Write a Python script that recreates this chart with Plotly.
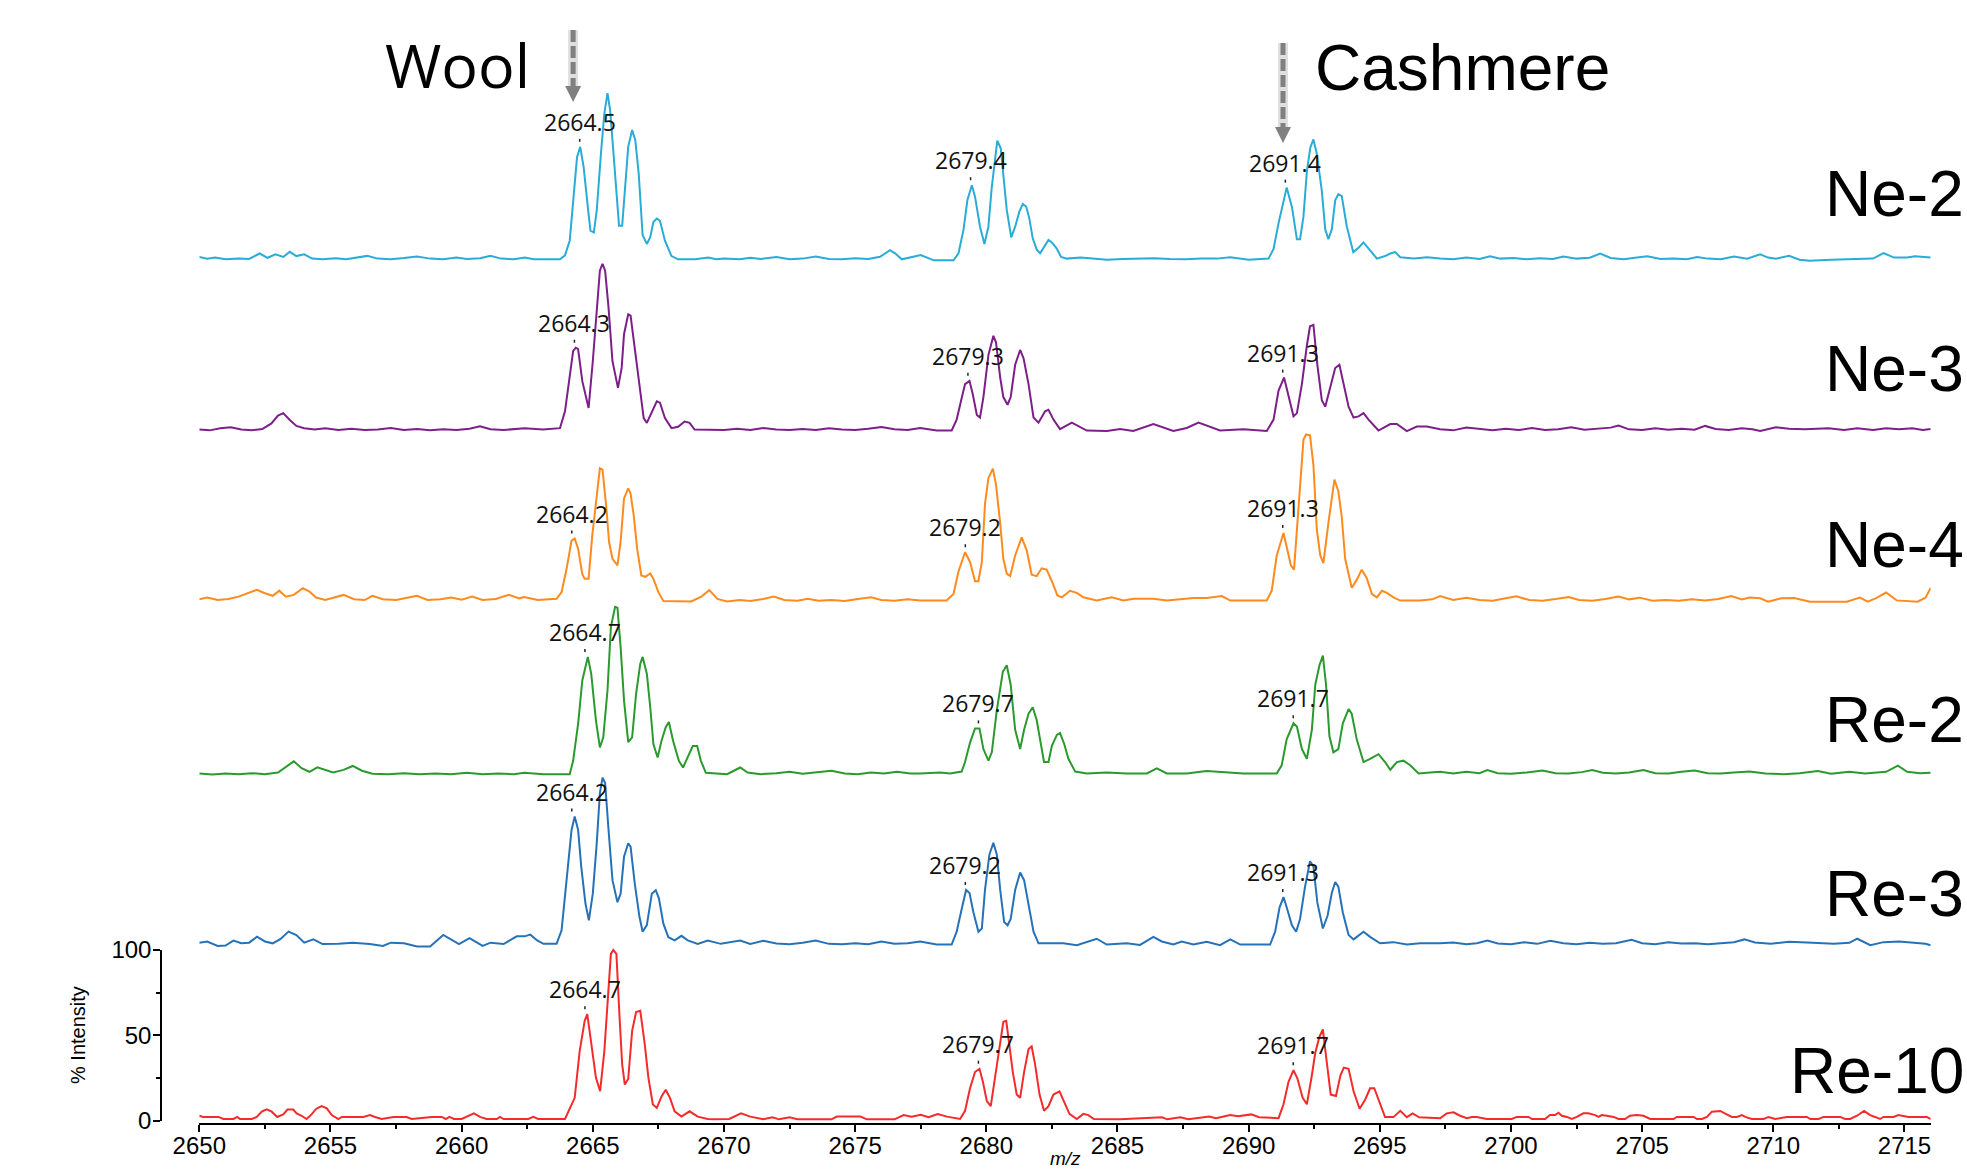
import numpy as np
import plotly.graph_objects as go

# ---------------- data ----------------
SAMPLES = ["Ne-2", "Ne-3", "Ne-4", "Re-2", "Re-3", "Re-10"]
COLORS = ["#29ACD6", "#7C1F88", "#FF8A1E", "#2A9A2E", "#2672B9", "#F52A2A"]
STACK_OFFSET = [502, 402, 302, 201, 101, 0]   # vertical stacking of each spectrum (% units)

PEAK_LABELS = {
    "Ne-2": [2664.5, 2679.4, 2691.4],
    "Ne-3": [2664.3, 2679.3, 2691.3],
    "Ne-4": [2664.2, 2679.2, 2691.3],
    "Re-2": [2664.7, 2679.7, 2691.7],
    "Re-3": [2664.2, 2679.2, 2691.3],
    "Re-10": [2664.7, 2679.7, 2691.7],
}
MZ_RANGE = [2650, 2716]
X_TICKS = [2650, 2655, 2660, 2665, 2670, 2675, 2680, 2685, 2690, 2695, 2700, 2705, 2710, 2715]
Y_TICKS = [0, 50, 100]
MARKERS = {"Wool": 2664.25, "Cashmere": 2691.31}

# (m/z, % intensity) vertices of each spectrum
NE_2 = [
    (2650.0, 4.0), (2650.3, 3.0), (2650.6, 3.6), (2651.0, 2.6), (2651.5, 3.0), (2651.9, 2.8), (2652.3, 6.0),
    (2652.6, 3.5), (2652.9, 5.5), (2653.2, 4.0), (2653.45, 7.0), (2653.7, 4.5), (2654.0, 5.5), (2654.3, 3.0),
    (2654.7, 2.6), (2655.2, 3.2), (2655.6, 2.6), (2656.0, 3.5), (2656.4, 4.6), (2656.8, 3.0), (2657.3, 2.6),
    (2657.8, 3.3), (2658.3, 4.2), (2658.8, 3.0), (2659.3, 2.6), (2659.8, 3.6), (2660.2, 2.8), (2660.7, 3.2),
    (2661.1, 4.6), (2661.5, 3.0), (2662.0, 2.6), (2662.4, 3.7), (2662.75, 2.6), (2663.75, 2.6),
    (2663.94, 4.9), (2664.12, 13.5), (2664.25, 37.0), (2664.4, 62.6), (2664.52, 68.5), (2664.65, 56.7),
    (2664.81, 33.2), (2664.91, 19.4), (2665.04, 18.3), (2665.15, 31.2), (2665.31, 64.5), (2665.44, 88.0),
    (2665.56, 100.0), (2665.66, 90.0), (2665.78, 66.5), (2665.9, 41.0), (2666.0, 22.2), (2666.12, 22.2),
    (2666.25, 48.9), (2666.35, 68.5), (2666.5, 78.3), (2666.62, 72.4), (2666.75, 52.8), (2666.9, 16.7),
    (2667.06, 11.6), (2667.19, 15.5), (2667.31, 24.5), (2667.44, 26.5), (2667.56, 25.2), (2667.75, 13.5),
    (2668.0, 4.5), (2668.25, 2.6), (2668.9, 2.6), (2669.4, 3.7), (2669.7, 2.6), (2670.0, 3.0),
    (2670.6, 2.6), (2671.0, 3.5), (2671.4, 2.8), (2672.0, 4.0), (2672.5, 2.6), (2673.0, 3.0), (2673.5, 4.2),
    (2674.0, 2.8), (2674.5, 2.6), (2675.0, 3.2), (2675.5, 2.8), (2675.95, 4.1), (2676.33, 8.0), (2676.52, 6.1),
    (2676.78, 2.6), (2677.1, 3.7), (2677.5, 5.1), (2678.0, 2.0), (2678.75, 2.0),
    (2678.94, 6.1), (2679.13, 19.8), (2679.28, 37.3), (2679.45, 46.0), (2679.57, 39.3), (2679.76, 21.7),
    (2679.93, 11.6), (2680.08, 21.7), (2680.21, 45.1), (2680.33, 62.7), (2680.42, 72.1), (2680.55, 67.6),
    (2680.65, 53.0), (2680.78, 31.5), (2680.95, 15.5), (2681.1, 21.7), (2681.26, 30.5), (2681.39, 35.0),
    (2681.52, 33.5), (2681.64, 26.6), (2681.77, 14.9), (2681.92, 8.4), (2682.05, 6.1), (2682.37, 13.9),
    (2682.5, 12.5), (2682.68, 9.0), (2682.85, 4.0), (2683.07, 3.0),
    (2683.6, 3.6), (2684.2, 2.8), (2684.6, 2.4), (2685.2, 2.8), (2685.8, 3.0), (2686.4, 3.2), (2687.0, 2.8),
    (2687.6, 2.6), (2688.2, 3.0), (2688.8, 3.0), (2689.3, 3.8), (2689.7, 2.8), (2690.0, 2.4), (2690.76, 3.0),
    (2690.95, 8.7), (2691.14, 23.8), (2691.45, 44.6), (2691.65, 33.3), (2691.84, 14.4), (2691.96, 14.4),
    (2692.09, 27.6), (2692.22, 54.0), (2692.35, 68.0), (2692.47, 72.8), (2692.6, 64.3), (2692.79, 42.7),
    (2692.92, 20.1), (2693.04, 14.4), (2693.17, 20.1), (2693.3, 37.1), (2693.42, 40.8), (2693.55, 39.6),
    (2693.74, 22.0), (2693.99, 6.8), (2694.2, 9.5), (2694.38, 12.5), (2694.57, 8.7), (2694.89, 3.0),
    (2695.2, 4.5), (2695.4, 6.0), (2695.59, 6.8), (2695.78, 3.8), (2696.3, 3.1), (2696.8, 3.8), (2697.3, 3.1),
    (2697.8, 2.6), (2698.3, 3.6), (2698.8, 2.8), (2699.2, 4.4), (2699.6, 3.0), (2700.1, 3.4), (2700.6, 2.6),
    (2701.1, 3.2), (2701.6, 2.8), (2702.0, 4.2), (2702.5, 3.0), (2703.0, 3.5), (2703.4, 6.0), (2703.8, 3.4),
    (2704.3, 2.6), (2704.8, 3.6), (2705.2, 4.4), (2705.7, 2.8), (2706.2, 3.0), (2706.7, 2.6), (2707.1, 4.0),
    (2707.5, 3.0), (2708.0, 2.6), (2708.5, 4.2), (2709.0, 3.0), (2709.5, 5.5), (2709.8, 3.6), (2710.1, 3.0),
    (2710.6, 4.6), (2711.0, 2.4), (2711.4, 1.8), (2712.2, 2.4), (2713.0, 2.6), (2713.8, 3.0), (2714.2, 6.2),
    (2714.6, 3.6), (2715.1, 3.6), (2715.4, 4.4), (2716.0, 3.6),
]

NE_3 = [
    (2650.0, 2.9), (2650.4, 2.4), (2650.8, 3.6), (2651.2, 4.2), (2651.6, 2.9), (2652.0, 2.4), (2652.4, 3.2),
    (2652.75, 6.5), (2653.0, 11.0), (2653.2, 12.5), (2653.45, 8.5), (2653.7, 5.0), (2654.0, 3.6), (2654.4, 2.9),
    (2654.8, 3.6), (2655.3, 2.6), (2655.8, 3.4), (2656.3, 2.6), (2656.8, 2.9), (2657.3, 3.8), (2657.8, 2.6),
    (2658.3, 3.2), (2658.8, 2.4), (2659.3, 3.0), (2659.8, 2.6), (2660.3, 3.4), (2660.7, 4.8), (2661.1, 3.0),
    (2661.6, 2.6), (2662.1, 3.2), (2662.4, 3.7), (2663.1, 2.9), (2663.75, 3.7),
    (2663.94, 13.5), (2664.12, 35.1), (2664.25, 48.8), (2664.35, 50.8), (2664.44, 50.0), (2664.6, 31.2),
    (2664.75, 20.2), (2664.84, 15.5), (2665.0, 42.9), (2665.15, 74.3), (2665.27, 95.9), (2665.37, 100.0),
    (2665.47, 95.9), (2665.6, 74.3), (2665.75, 42.9), (2665.96, 27.3), (2666.1, 39.0), (2666.19, 58.7),
    (2666.35, 70.4), (2666.44, 69.6), (2666.62, 46.8), (2666.81, 23.3), (2666.94, 9.6), (2667.06, 6.8),
    (2667.25, 13.5), (2667.44, 19.4), (2667.56, 18.6), (2667.75, 9.6), (2668.0, 3.7), (2668.25, 4.5),
    (2668.5, 7.6), (2668.69, 6.8), (2668.88, 2.9),
    (2669.5, 2.9), (2670.0, 2.6), (2670.5, 3.4), (2671.0, 2.6), (2671.5, 3.8), (2672.0, 2.9), (2672.5, 2.6),
    (2673.0, 3.2), (2673.5, 2.6), (2674.0, 3.6), (2674.5, 2.9), (2675.0, 2.6), (2675.5, 3.4), (2676.0, 4.4),
    (2676.5, 3.0), (2677.0, 2.6), (2677.48, 3.8), (2678.11, 2.3), (2678.68, 2.3),
    (2678.87, 8.7), (2679.06, 21.2), (2679.19, 29.5), (2679.36, 31.4), (2679.48, 23.8), (2679.64, 11.4),
    (2679.76, 9.9), (2679.89, 21.9), (2680.08, 46.5), (2680.27, 57.8), (2680.37, 54.0), (2680.53, 33.3),
    (2680.65, 21.9), (2680.81, 17.4), (2680.93, 21.9), (2681.1, 40.8), (2681.29, 49.5), (2681.42, 44.6),
    (2681.61, 29.5), (2681.8, 9.9), (2681.99, 6.9), (2682.24, 13.6), (2682.37, 14.4), (2682.56, 8.7),
    (2682.81, 3.1), (2683.26, 6.9), (2683.51, 5.0), (2683.83, 2.3), (2684.6, 2.0), (2685.1, 3.2),
    (2685.6, 2.0), (2686.37, 6.1), (2687.13, 2.0), (2687.64, 3.8), (2688.09, 6.9), (2688.91, 2.3),
    (2689.8, 3.0), (2690.69, 2.0),
    (2690.95, 8.7), (2691.14, 25.7), (2691.35, 33.3), (2691.52, 21.9), (2691.71, 10.6), (2691.84, 12.5),
    (2692.03, 29.5), (2692.22, 52.1), (2692.34, 63.4), (2692.47, 64.2), (2692.62, 40.8), (2692.79, 20.0),
    (2692.92, 16.3), (2693.08, 25.7), (2693.3, 38.9), (2693.46, 40.8), (2693.61, 29.5), (2693.81, 16.3),
    (2694.0, 9.9), (2694.19, 10.6), (2694.38, 12.5), (2694.57, 8.7), (2694.95, 2.3), (2695.4, 6.1),
    (2695.65, 6.1), (2696.03, 2.0), (2696.41, 4.6), (2696.79, 4.6), (2697.3, 3.0),
    (2697.8, 2.4), (2698.3, 4.0), (2698.8, 3.0), (2699.3, 2.4), (2699.8, 3.4), (2700.3, 2.6), (2700.8, 3.8),
    (2701.3, 2.6), (2701.8, 3.0), (2702.3, 4.2), (2702.8, 2.8), (2703.3, 3.2), (2703.8, 4.0), (2704.1, 5.2),
    (2704.5, 3.0), (2705.0, 2.6), (2705.5, 3.6), (2706.0, 2.8), (2706.5, 3.4), (2707.0, 2.8), (2707.4, 5.0),
    (2707.8, 3.2), (2708.3, 2.6), (2708.8, 3.6), (2709.2, 3.0), (2709.5, 2.0), (2709.8, 3.0), (2710.1, 4.2),
    (2710.6, 3.4), (2711.2, 3.0), (2712.1, 3.6), (2712.7, 2.6), (2713.2, 3.6), (2713.8, 2.6), (2714.3, 3.6),
    (2714.8, 3.0), (2715.3, 3.6), (2715.7, 2.6), (2716.0, 3.2),
]

NE_4 = [
    (2650.0, 3.5), (2650.3, 4.5), (2650.7, 3.0), (2651.1, 3.6), (2651.5, 5.0), (2651.9, 7.5), (2652.2, 9.0),
    (2652.5, 7.0), (2652.8, 5.5), (2653.05, 8.5), (2653.3, 5.0), (2653.6, 6.0), (2653.95, 10.0), (2654.2, 8.0),
    (2654.45, 4.5), (2654.8, 3.0), (2655.2, 4.5), (2655.5, 6.0), (2655.9, 3.5), (2656.3, 3.0), (2656.6, 5.5),
    (2657.0, 3.5), (2657.5, 3.0), (2658.0, 4.5), (2658.3, 5.5), (2658.7, 3.0), (2659.2, 3.5), (2659.6, 4.5),
    (2660.0, 3.2), (2660.4, 5.0), (2660.8, 3.0), (2661.3, 3.6), (2661.8, 6.0), (2662.2, 4.0), (2662.38, 4.8),
    (2662.9, 3.0), (2663.3, 3.4), (2663.62, 3.7),
    (2663.81, 7.6), (2664.0, 21.3), (2664.19, 37.8), (2664.31, 39.0), (2664.44, 33.1), (2664.6, 18.2),
    (2664.69, 15.4), (2664.84, 15.4), (2664.98, 40.9), (2665.15, 64.5), (2665.27, 80.2), (2665.37, 79.4),
    (2665.52, 56.6), (2665.62, 37.0), (2665.75, 27.2), (2665.94, 23.3), (2666.06, 37.0), (2666.19, 62.5),
    (2666.35, 68.4), (2666.44, 65.3), (2666.56, 52.7), (2666.69, 33.1), (2666.85, 17.4), (2667.0, 16.6),
    (2667.19, 18.6), (2667.31, 15.4), (2667.5, 7.6), (2667.69, 2.5), (2668.25, 2.5), (2668.75, 2.2),
    (2669.12, 4.8), (2669.44, 8.8), (2669.75, 3.7), (2670.12, 2.2),
    (2670.6, 3.0), (2671.0, 2.4), (2671.5, 3.6), (2671.9, 5.0), (2672.3, 3.0), (2672.8, 2.6), (2673.2, 3.8),
    (2673.6, 2.6), (2674.1, 3.0), (2674.6, 2.4), (2675.1, 3.6), (2675.6, 4.6), (2676.0, 3.0), (2676.5, 2.6),
    (2677.0, 3.4), (2677.48, 2.7), (2678.49, 2.7),
    (2678.75, 6.5), (2678.94, 19.7), (2679.19, 31.0), (2679.38, 25.3), (2679.57, 14.0), (2679.7, 14.0),
    (2679.83, 25.3), (2679.95, 59.3), (2680.08, 74.4), (2680.25, 80.0), (2680.37, 70.6), (2680.53, 48.0),
    (2680.65, 27.2), (2680.78, 18.5), (2680.91, 17.0), (2681.1, 29.1), (2681.35, 39.7), (2681.54, 32.1),
    (2681.73, 17.8), (2681.92, 17.0), (2682.11, 21.6), (2682.3, 20.8), (2682.5, 14.0), (2682.71, 5.7),
    (2682.88, 4.6), (2683.19, 8.4), (2683.45, 7.2), (2683.7, 4.6), (2684.21, 2.7), (2684.78, 4.6),
    (2685.23, 2.7), (2685.61, 3.8), (2686.37, 3.8), (2686.88, 2.7), (2687.9, 4.2), (2688.4, 4.2),
    (2688.98, 5.3), (2689.3, 2.7), (2690.69, 2.7),
    (2690.88, 8.4), (2691.07, 29.1), (2691.33, 42.3), (2691.45, 34.8), (2691.61, 23.4), (2691.73, 20.8),
    (2691.9, 59.3), (2692.09, 97.0), (2692.19, 100.0), (2692.34, 99.5), (2692.47, 82.0), (2692.6, 44.2),
    (2692.73, 29.1), (2692.85, 24.6), (2693.04, 48.0), (2693.27, 73.6), (2693.42, 66.8), (2693.55, 51.7),
    (2693.68, 27.2), (2693.93, 10.2), (2694.12, 14.8), (2694.31, 20.8), (2694.5, 15.9), (2694.7, 6.5),
    (2694.89, 4.6), (2695.08, 8.4), (2695.27, 7.2), (2695.52, 4.6), (2695.78, 2.7), (2696.54, 2.7),
    (2697.0, 3.4), (2697.3, 5.3),
    (2697.8, 3.0), (2698.3, 4.4), (2698.8, 3.0), (2699.3, 2.6), (2699.8, 4.0), (2700.2, 5.2), (2700.7, 3.0),
    (2701.2, 2.6), (2701.7, 3.6), (2702.2, 4.8), (2702.6, 3.0), (2703.1, 2.6), (2703.6, 3.6), (2704.1, 5.0),
    (2704.5, 3.4), (2704.9, 4.4), (2705.4, 2.6), (2705.9, 3.0), (2706.4, 2.6), (2706.9, 3.4), (2707.4, 2.8),
    (2707.9, 3.6), (2708.4, 5.4), (2708.8, 3.4), (2709.1, 4.5), (2709.5, 4.0), (2709.8, 2.0), (2710.3, 4.0),
    (2710.8, 4.2), (2711.4, 2.0), (2712.8, 2.0), (2713.3, 4.4), (2713.6, 2.0), (2713.9, 4.0), (2714.3, 7.4),
    (2714.7, 2.8), (2715.5, 2.0), (2715.8, 4.4), (2716.0, 10.0),
]

RE_2 = [
    (2650.0, 2.4), (2650.5, 1.8), (2651.0, 2.4), (2651.5, 2.0), (2652.0, 2.6), (2652.5, 2.0), (2653.0, 3.0),
    (2653.3, 6.5), (2653.6, 9.5), (2653.9, 5.5), (2654.2, 3.4), (2654.5, 6.0), (2654.8, 4.5), (2655.1, 3.0),
    (2655.5, 4.5), (2655.85, 6.8), (2656.2, 4.0), (2656.6, 2.2), (2657.2, 2.0), (2657.8, 2.6), (2658.4, 2.0),
    (2659.0, 2.4), (2659.6, 2.0), (2660.2, 2.8), (2660.8, 2.0), (2661.4, 2.4), (2662.0, 2.0), (2662.38, 2.8),
    (2663.12, 2.0), (2664.12, 2.0),
    (2664.25, 9.8), (2664.44, 31.4), (2664.6, 56.9), (2664.81, 70.7), (2664.94, 60.8), (2665.12, 33.4),
    (2665.27, 17.7), (2665.4, 23.6), (2665.56, 51.0), (2665.69, 88.3), (2665.85, 100.0), (2665.94, 99.5),
    (2666.06, 76.5), (2666.19, 45.2), (2666.35, 20.8), (2666.5, 23.6), (2666.65, 49.1), (2666.81, 66.7),
    (2666.9, 70.7), (2667.06, 60.8), (2667.19, 41.2), (2667.31, 19.6), (2667.47, 11.8), (2667.62, 21.6),
    (2667.78, 29.5), (2667.9, 32.6), (2668.06, 21.6), (2668.28, 9.8), (2668.44, 5.9), (2668.62, 11.8),
    (2668.81, 18.5), (2668.98, 18.5), (2669.12, 9.8), (2669.31, 2.8), (2670.12, 2.0), (2670.38, 4.0),
    (2670.62, 5.9),
    (2670.9, 3.0), (2671.4, 2.0), (2672.0, 2.6), (2672.5, 3.4), (2673.0, 2.2), (2673.6, 3.0), (2674.1, 4.0),
    (2674.6, 2.4), (2675.1, 2.0), (2675.6, 3.0), (2676.1, 2.4), (2676.6, 3.4), (2677.1, 2.4), (2677.48, 2.4),
    (2678.24, 3.0), (2678.62, 2.4),
    (2679.06, 3.5), (2679.19, 9.1), (2679.38, 20.5), (2679.57, 28.8), (2679.74, 28.8), (2679.89, 16.7),
    (2680.08, 9.9), (2680.21, 14.8), (2680.4, 39.3), (2680.63, 62.0), (2680.78, 65.8), (2680.93, 54.4),
    (2681.1, 28.0), (2681.29, 16.7), (2681.44, 28.0), (2681.61, 37.4), (2681.77, 41.2), (2681.92, 33.7),
    (2682.08, 18.6), (2682.2, 9.1), (2682.37, 9.1), (2682.5, 18.6), (2682.69, 25.0), (2682.81, 26.1),
    (2682.97, 19.7), (2683.13, 11.0), (2683.39, 3.5), (2683.83, 2.4), (2684.59, 3.0), (2685.35, 2.4),
    (2686.12, 2.4), (2686.5, 5.4), (2686.88, 2.4), (2687.64, 2.4), (2688.4, 3.9), (2689.17, 3.0),
    (2689.8, 2.4), (2691.07, 2.4),
    (2691.26, 7.2), (2691.45, 22.4), (2691.71, 31.8), (2691.84, 29.9), (2692.03, 16.7), (2692.22, 11.0),
    (2692.41, 28.0), (2692.54, 54.4), (2692.7, 65.8), (2692.83, 71.4), (2692.95, 54.4), (2693.08, 24.2),
    (2693.23, 14.8), (2693.42, 16.7), (2693.59, 31.8), (2693.81, 40.1), (2693.93, 37.4), (2694.12, 22.4),
    (2694.38, 9.1), (2694.63, 11.0), (2694.95, 13.7), (2695.2, 9.1), (2695.4, 4.6), (2695.65, 9.1),
    (2695.9, 9.9), (2696.16, 7.2), (2696.48, 2.4), (2696.92, 3.0), (2697.3, 3.4),
    (2697.8, 2.4), (2698.3, 3.4), (2698.8, 2.6), (2699.1, 4.4), (2699.5, 2.6), (2700.0, 2.2), (2700.6, 3.0),
    (2701.2, 4.2), (2701.7, 2.6), (2702.2, 2.4), (2702.7, 3.2), (2703.1, 4.4), (2703.5, 2.8), (2704.0, 2.4),
    (2704.5, 3.0), (2705.05, 4.4), (2705.5, 2.6), (2706.0, 2.4), (2706.5, 3.4), (2707.0, 4.2), (2707.5, 2.6),
    (2708.0, 2.4), (2708.5, 3.0), (2709.1, 3.6), (2709.7, 2.4), (2710.4, 2.0), (2711.0, 2.6), (2711.7, 3.8),
    (2712.2, 2.2), (2712.9, 3.4), (2713.5, 2.4), (2714.3, 3.4), (2714.75, 7.0), (2715.1, 3.4), (2715.6, 2.6),
    (2716.0, 2.8),
]

RE_3 = [
    (2650.0, 3.3), (2650.3, 3.9), (2650.7, 1.4), (2651.0, 1.6), (2651.3, 4.5), (2651.6, 3.0), (2651.9, 3.3),
    (2652.2, 6.8), (2652.5, 4.0), (2652.8, 2.9), (2653.1, 5.5), (2653.4, 9.8), (2653.7, 7.8), (2654.0, 3.3),
    (2654.35, 5.2), (2654.7, 2.5), (2655.3, 2.6), (2655.85, 3.3), (2656.5, 2.5), (2657.0, 1.4), (2657.3, 3.3),
    (2657.8, 2.9), (2658.3, 1.0), (2658.8, 1.0), (2659.3, 7.8), (2659.6, 5.3), (2659.9, 2.5), (2660.3, 5.9),
    (2660.8, 1.4), (2661.1, 3.3), (2661.6, 2.5), (2662.1, 7.0), (2662.4, 7.0), (2662.62, 8.0), (2662.88, 4.6),
    (2663.12, 2.6), (2663.62, 2.6),
    (2663.81, 10.5), (2664.0, 37.9), (2664.19, 69.3), (2664.31, 77.2), (2664.44, 69.3), (2664.56, 47.7),
    (2664.72, 26.2), (2664.85, 16.4), (2665.0, 32.0), (2665.15, 61.5), (2665.27, 90.9), (2665.37, 100.0),
    (2665.47, 96.8), (2665.6, 69.3), (2665.75, 39.9), (2665.94, 27.0), (2666.06, 32.0), (2666.19, 53.6),
    (2666.35, 61.5), (2666.44, 59.5), (2666.6, 37.9), (2666.78, 18.3), (2666.9, 9.7), (2667.06, 13.6),
    (2667.25, 32.0), (2667.4, 34.0), (2667.52, 29.3), (2667.69, 14.4), (2667.88, 6.5), (2668.12, 4.6),
    (2668.38, 7.3), (2668.62, 4.6), (2669.0, 2.6), (2669.38, 4.6), (2669.88, 2.6), (2670.62, 4.6),
    (2671.0, 2.6), (2671.5, 4.4), (2672.0, 2.8), (2672.5, 2.4), (2673.0, 3.2), (2673.5, 4.6), (2674.0, 2.6),
    (2674.5, 2.4), (2675.0, 3.0), (2675.5, 2.4), (2676.0, 4.0), (2676.5, 2.6), (2677.0, 3.0), (2677.48, 4.0),
    (2678.11, 2.2), (2678.68, 2.2),
    (2678.87, 9.7), (2679.06, 22.9), (2679.23, 34.2), (2679.36, 32.4), (2679.51, 21.0), (2679.7, 9.7),
    (2679.83, 11.6), (2679.95, 34.2), (2680.12, 55.0), (2680.27, 61.8), (2680.4, 55.0), (2680.53, 34.2),
    (2680.68, 15.4), (2680.81, 13.5), (2680.93, 17.2), (2681.1, 34.2), (2681.29, 44.4), (2681.44, 39.9),
    (2681.61, 26.7), (2681.8, 9.7), (2681.99, 2.9), (2682.94, 2.9), (2683.45, 1.8), (2684.08, 5.2),
    (2684.21, 5.6), (2684.59, 2.2), (2685.35, 2.9), (2685.86, 2.0), (2686.37, 6.7), (2686.69, 4.0),
    (2687.13, 2.2), (2687.45, 4.0), (2687.9, 2.2), (2688.4, 3.8), (2688.91, 1.8), (2689.3, 5.2),
    (2689.68, 2.2), (2690.82, 2.2),
    (2691.01, 9.7), (2691.18, 24.0), (2691.33, 30.0), (2691.45, 24.0), (2691.65, 13.5), (2691.81, 9.7),
    (2691.96, 17.2), (2692.15, 36.1), (2692.34, 51.0), (2692.47, 48.0), (2692.62, 26.7), (2692.83, 11.6),
    (2693.01, 19.2), (2693.17, 32.4), (2693.3, 38.8), (2693.42, 36.1), (2693.59, 21.0), (2693.81, 7.8),
    (2694.0, 5.2), (2694.38, 9.7), (2694.63, 6.7), (2695.01, 2.9), (2695.52, 3.6), (2696.03, 2.2),
    (2696.54, 2.9), (2697.3, 2.9),
    (2697.8, 3.4), (2698.3, 2.4), (2698.7, 3.0), (2699.1, 4.6), (2699.5, 2.8), (2700.0, 2.4), (2700.5, 3.6),
    (2701.0, 2.6), (2701.5, 4.4), (2702.0, 3.0), (2702.5, 2.4), (2703.0, 3.2), (2703.5, 2.6), (2704.0, 3.0),
    (2704.6, 5.0), (2705.0, 3.0), (2705.5, 2.4), (2706.0, 3.6), (2706.5, 2.8), (2707.0, 3.0), (2707.5, 2.4),
    (2708.0, 3.0), (2708.5, 3.6), (2708.9, 5.2), (2709.3, 3.4), (2709.9, 2.6), (2710.6, 3.8), (2711.5, 3.2),
    (2712.3, 2.6), (2712.9, 3.2), (2713.2, 5.6), (2713.7, 1.8), (2714.2, 3.6), (2714.8, 4.0), (2715.4, 3.2),
    (2715.8, 2.6), (2716.0, 1.8),
]

RE_10 = [
    (2650.0, 2.9), (2650.15, 2.2), (2650.73, 2.2), (2650.92, 1.0), (2651.3, 1.0), (2651.45, 2.2), (2651.55, 1.0),
    (2652.0, 1.0), (2652.19, 2.2), (2652.38, 5.3), (2652.57, 6.7), (2652.76, 5.3), (2652.97, 2.2), (2653.2, 3.7),
    (2653.36, 6.5), (2653.58, 6.5), (2653.71, 4.3), (2653.9, 2.9), (2654.09, 1.0), (2654.28, 3.7), (2654.45, 6.9),
    (2654.66, 8.6), (2654.86, 7.2), (2655.05, 3.3), (2655.3, 1.0), (2655.43, 2.2), (2656.25, 2.2), (2656.51, 3.3),
    (2656.7, 2.2), (2656.95, 1.0), (2657.4, 2.2), (2657.9, 2.2), (2658.1, 1.0), (2658.86, 2.2), (2659.24, 2.2),
    (2659.4, 1.0), (2659.53, 2.2), (2659.71, 1.0), (2660.0, 1.0), (2660.26, 2.9), (2660.47, 4.3), (2660.7, 2.2),
    (2660.95, 1.0), (2661.34, 1.0), (2661.46, 2.2), (2661.6, 1.0), (2662.54, 1.0), (2662.73, 2.2), (2662.92, 1.0),
    (2663.94, 1.0),
    (2664.07, 5.3), (2664.23, 11.2), (2664.31, 13.4), (2664.5, 40.8), (2664.69, 58.5), (2664.79, 62.4),
    (2664.94, 44.8), (2665.12, 25.1), (2665.28, 17.3), (2665.44, 40.8), (2665.56, 68.3), (2665.69, 97.7),
    (2665.78, 100.0), (2665.9, 97.7), (2666.02, 60.5), (2666.12, 33.0), (2666.22, 21.2), (2666.35, 24.4),
    (2666.5, 52.6), (2666.65, 63.6), (2666.81, 64.4), (2666.98, 44.8), (2667.12, 25.1), (2667.29, 9.5),
    (2667.44, 7.5), (2667.62, 14.2), (2667.78, 18.1), (2667.94, 13.4), (2668.12, 5.5), (2668.38, 2.4),
    (2668.69, 5.5), (2669.0, 2.4), (2669.38, 1.0),
    (2669.6, 0.8), (2670.2, 1.0), (2670.65, 4.3), (2671.0, 2.4), (2671.5, 0.8), (2671.85, 2.0), (2672.1, 0.8),
    (2672.5, 2.0), (2672.8, 0.8), (2674.1, 0.8), (2674.3, 2.4), (2675.2, 2.4), (2675.45, 0.8), (2676.5, 0.8),
    (2676.85, 3.3), (2677.15, 2.4), (2677.5, 3.5), (2677.8, 2.0), (2678.15, 3.9), (2678.5, 2.4), (2679.0, 1.0),
    (2679.19, 5.8), (2679.38, 19.0), (2679.57, 28.5), (2679.74, 30.4), (2679.87, 22.8), (2680.02, 11.5),
    (2680.17, 8.5), (2680.34, 26.6), (2680.53, 45.5), (2680.65, 58.0), (2680.76, 58.5), (2680.84, 49.0),
    (2681.01, 28.5), (2681.16, 15.3), (2681.29, 13.4), (2681.44, 28.5), (2681.61, 42.0), (2681.73, 43.5),
    (2681.86, 33.0), (2682.03, 15.3), (2682.2, 5.8), (2682.37, 8.5), (2682.56, 15.3), (2682.79, 17.2),
    (2682.97, 10.8), (2683.17, 4.0), (2683.45, 1.0), (2683.7, 4.0), (2683.89, 3.3), (2684.1, 1.0),
    (2685.1, 0.8), (2686.7, 2.0), (2686.9, 0.8), (2687.4, 2.0), (2687.7, 0.8), (2688.5, 2.4), (2688.75, 1.4),
    (2689.3, 3.3), (2689.6, 2.6), (2690.1, 3.7), (2690.4, 2.0), (2691.14, 1.5),
    (2691.33, 9.6), (2691.52, 22.8), (2691.71, 29.6), (2691.86, 24.7), (2692.06, 13.4), (2692.22, 9.6),
    (2692.41, 26.6), (2692.54, 39.8), (2692.7, 49.2), (2692.83, 53.5), (2692.95, 37.9), (2693.13, 15.3),
    (2693.33, 14.5), (2693.5, 26.6), (2693.63, 31.1), (2693.81, 30.4), (2694.0, 17.2), (2694.23, 7.0),
    (2694.44, 12.3), (2694.63, 19.0), (2694.79, 19.0), (2694.99, 10.8), (2695.2, 2.1), (2695.52, 2.1),
    (2695.78, 5.8), (2696.03, 2.1), (2696.25, 4.3), (2696.5, 2.0), (2697.0, 1.4),
    (2697.3, 1.4), (2697.55, 4.3), (2697.81, 4.9), (2698.06, 2.9), (2698.32, 1.4), (2698.51, 2.2), (2698.7, 2.2),
    (2699.08, 1.0), (2700.03, 1.0), (2700.22, 2.2), (2700.67, 2.2), (2700.8, 1.0), (2701.3, 1.0), (2701.49, 3.3),
    (2701.68, 3.3), (2701.81, 4.7), (2701.94, 2.9), (2702.13, 2.2), (2702.32, 1.0), (2702.51, 2.2), (2702.76, 4.3),
    (2702.95, 4.3), (2703.21, 3.3), (2703.34, 2.2), (2703.46, 3.3), (2703.65, 2.9), (2703.91, 2.2), (2704.1, 1.0),
    (2704.35, 1.0), (2704.54, 2.9), (2704.8, 3.3), (2705.05, 2.9), (2705.31, 1.0), (2706.2, 1.0), (2706.32, 2.2),
    (2706.96, 2.2), (2707.09, 1.0), (2707.28, 1.0), (2707.47, 2.2), (2707.66, 5.3), (2707.98, 5.7), (2708.17, 4.1),
    (2708.42, 2.2), (2708.61, 2.2), (2708.8, 3.3), (2708.93, 2.2), (2709.18, 1.0), (2709.63, 1.0), (2709.82, 2.2),
    (2710.07, 1.0), (2710.52, 2.2), (2711.28, 2.2), (2711.41, 1.0), (2711.73, 1.0), (2711.91, 2.2), (2712.55, 2.2),
    (2712.74, 1.0), (2712.93, 1.0), (2713.19, 2.9), (2713.46, 5.7), (2713.69, 3.3), (2713.88, 2.2), (2714.07, 1.0),
    (2714.2, 2.2), (2714.58, 2.2), (2714.77, 3.3), (2714.96, 2.9), (2715.15, 2.2), (2715.85, 2.2), (2716.0, 1.0),
]

SPECTRA = [NE_2, NE_3, NE_4, RE_2, RE_3, RE_10]

# ---------------- figure ----------------
W, H = 1967, 1173
TICK_FONT = dict(family="Liberation Sans Narrow, Arial Narrow, Liberation Sans, Arial, sans-serif",
                 size=24, color="black")
LABEL_FONT = dict(family="Open Sans, Noto Sans, sans-serif", size=23, color="#111111")


def py2paper(py):
    return 1 - py / H


fig = go.Figure()
annotations = []
shapes = []

for name, color, off, spec in zip(SAMPLES, COLORS, STACK_OFFSET, SPECTRA):
    mz = np.array([p[0] for p in spec])
    inten = np.array([p[1] for p in spec])
    fig.add_trace(go.Scatter(
        x=mz, y=inten + off, mode="lines", name=name,
        line=dict(color=color, width=2), hoverinfo="skip", showlegend=False,
        xaxis="x", yaxis="y"))
    for lab in PEAK_LABELS[name]:
        sel = (mz > lab - 0.3) & (mz < lab + 0.3)
        ytop = off + inten[sel].max()
        annotations.append(dict(
            x=lab, y=ytop, xref="x", yref="y", text=f"{lab:.1f}", showarrow=False,
            xanchor="center", yanchor="bottom", yshift=7, font=LABEL_FONT))
        shapes.append(dict(
            type="line", xref="x", yref="y", x0=lab, x1=lab,
            ysizemode="pixel", yanchor=ytop, y0=5, y1=8,
            line=dict(color="#222222", width=1.5)))

# empty trace to host the small intensity scale axis
fig.add_trace(go.Scatter(x=[], y=[], xaxis="x", yaxis="y2", showlegend=False, hoverinfo="skip"))

# sample names on the right
NAME_Y_PX = [194, 369, 545, 720, 894, 1071]
for name, ypx in zip(SAMPLES, NAME_Y_PX):
    annotations.append(dict(
        x=1966 / W, y=py2paper(ypx), xref="paper", yref="paper", text=name, showarrow=False,
        xanchor="right", yanchor="middle",
        font=dict(family="Liberation Sans, Arial, sans-serif", size=64, color="black")))

# headers
annotations.append(dict(x=383 / W, y=py2paper(65), xref="paper", yref="paper", text="Wool",
                        showarrow=False, xanchor="left", yanchor="middle",
                        font=dict(family="Open Sans, Noto Sans, sans-serif", size=61, color="black")))
annotations.append(dict(x=1313 / W, y=py2paper(68), xref="paper", yref="paper", text="Cashmere",
                        showarrow=False, xanchor="left", yanchor="middle",
                        font=dict(family="Liberation Sans, Arial, sans-serif", size=64, color="black")))

# axis titles
annotations.append(dict(x=1065 / W, y=py2paper(1146), xref="paper", yref="paper", text="<i>m/z</i>",
                        showarrow=False, xanchor="center", yanchor="top",
                        font=dict(family="Liberation Sans Narrow, Arial Narrow, Liberation Sans, sans-serif",
                                  size=19, color="black")))
annotations.append(dict(x=78 / W, y=py2paper(1035), xref="paper", yref="paper", text="% Intensity",
                        showarrow=False, xanchor="center", yanchor="middle", textangle=-90,
                        font=dict(family="Liberation Sans, Arial, sans-serif", size=20, color="black")))

# dashed marker arrows
ARROW_PX = {"Wool": (30, 88, 102), "Cashmere": (43, 129, 143)}
for key, xval in MARKERS.items():
    top, bottom, tip = ARROW_PX[key]
    shapes.append(dict(type="line", xref="x", yref="paper", x0=xval, x1=xval,
                       y0=py2paper(top), y1=py2paper(bottom + 2),
                       line=dict(color="rgba(128,128,128,0.25)", width=10)))
    shapes.append(dict(type="line", xref="x", yref="paper", x0=xval, x1=xval,
                       y0=py2paper(top), y1=py2paper(bottom),
                       line=dict(color="#808080", width=5, dash="12px,4px")))
    shapes.append(dict(type="path", xref="x", yref="paper", xsizemode="pixel", ysizemode="pixel",
                       xanchor=xval, yanchor=py2paper(tip),
                       path="M -8,16 L 8,16 L 0,0 Z", fillcolor="#808080",
                       line=dict(color="#808080", width=0)))

X0_PX, X1_PX = 199.3, 1930.7
fig.update_layout(
    width=W, height=H, margin=dict(l=0, r=0, t=0, b=0),
    paper_bgcolor="white", plot_bgcolor="rgba(0,0,0,0)", showlegend=False,
    xaxis=dict(
        domain=[X0_PX / W, X1_PX / W], range=MZ_RANGE, anchor="y",
        showline=True, linecolor="black", linewidth=2, showgrid=False, zeroline=False,
        ticks="outside", ticklen=7, tickwidth=1.5, tickcolor="black",
        tickmode="array", tickvals=X_TICKS, tickfont=TICK_FONT, ticklabelstandoff=-7,
        minor=dict(ticks="outside", ticklen=4, tickwidth=1.5, tickcolor="black",
                   tick0=2652.5, dtick=5, showgrid=False),
        fixedrange=True, automargin=False,
    ),
    yaxis=dict(
        domain=[py2paper(1122.7), 1.0], range=[-1.17, 656.5], visible=False, fixedrange=True,
    ),
    yaxis2=dict(
        domain=[py2paper(1120.7), py2paper(950.0)], range=[0, 100], anchor="free",
        position=161 / W, showline=True, linecolor="black", linewidth=1.5,
        showgrid=False, zeroline=False, ticks="outside", ticklen=7, tickwidth=1.5,
        tickcolor="black", tickmode="array", tickvals=Y_TICKS, tickfont=TICK_FONT,
        ticklabelstandoff=-3,
        minor=dict(ticks="outside", ticklen=4, tickwidth=1.5, tickcolor="black",
                   tick0=25, dtick=50, showgrid=False),
        fixedrange=True, automargin=False,
    ),
    annotations=annotations,
    shapes=shapes,
)

fig.write_html("out.html")
